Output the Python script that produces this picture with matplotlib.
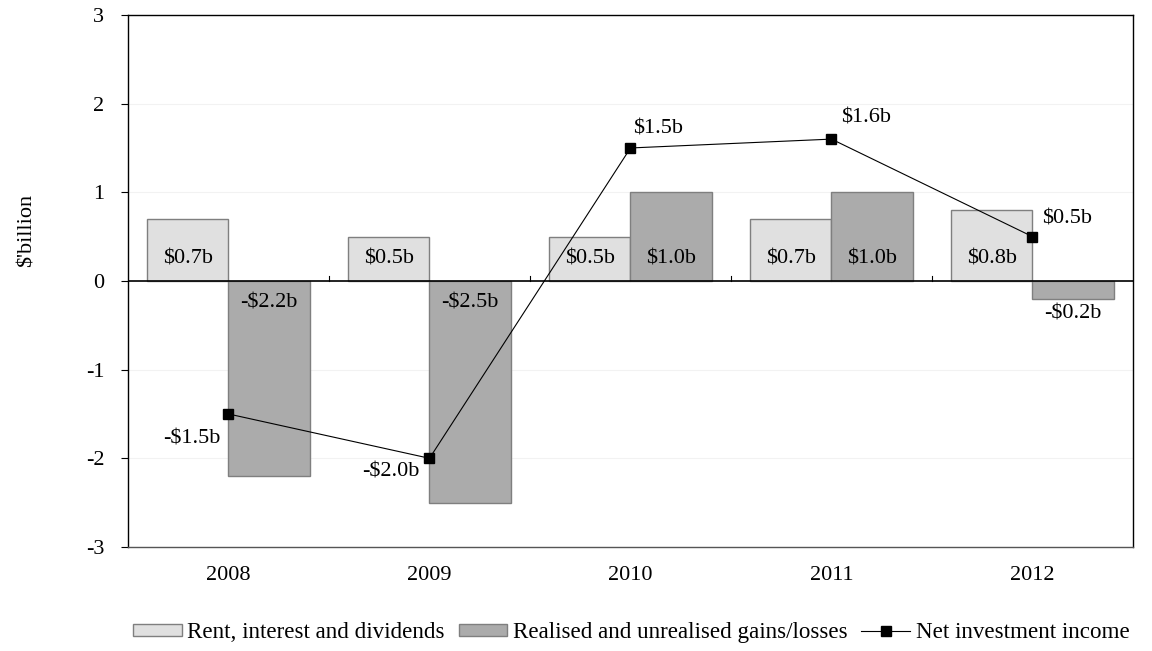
import numpy as np
import matplotlib
matplotlib.use("Agg")
import matplotlib.pyplot as plt
from matplotlib.lines import Line2D
from matplotlib.patches import Patch

plt.rcParams['font.family'] = ['Liberation Serif', 'DejaVu Serif']

years = ["2008", "2009", "2010", "2011", "2012"]
rent = [0.7, 0.5, 0.5, 0.7, 0.8]
gains = [-2.2, -2.5, 1.0, 1.0, -0.2]
net = [-1.5, -2.0, 1.5, 1.6, 0.5]
# offsets (points) for the net income labels
net_offsets = [(-6, -18), (-7, -10), (2, 14), (7, 15), (7, 13)]

light = "#E0E0E0"
dark = "#ABABAB"
edge = "#7F7F7F"
FS = 16

def fmt(v):
    s = "$%.1fb" % abs(v)
    return "-" + s if v < 0 else s

fig = plt.figure(figsize=(11.52, 6.51), dpi=100)
ax = fig.add_axes([0.1111, 0.1598, 0.8724, 0.8172])

x = np.arange(len(years))
w = 0.405
ax.bar(x - w / 2, rent, w, color=light, edgecolor=edge, linewidth=1, zorder=2)
ax.bar(x + w / 2, gains, w, color=dark, edgecolor=edge, linewidth=1, zorder=2)

# bar labels
for xi, v in zip(x - w / 2, rent):
    ax.text(xi, 0.25 if v > 0 else -0.25, fmt(v), ha="center", va="center", fontsize=FS, zorder=5)
for xi, v in zip(x + w / 2, gains):
    if abs(v) < 0.4:
        y = v - 0.17 if v < 0 else v + 0.17
    else:
        y = 0.25 if v > 0 else -0.25
    ax.text(xi, y, fmt(v), ha="center", va="center", fontsize=FS, zorder=5)

ax.plot(x, net, color="black", linewidth=0.8, marker="s", markersize=6.5, zorder=4)
for xi, v, off in zip(x, net, net_offsets):
    ax.annotate(fmt(v), (xi, v), xytext=off, textcoords="offset points",
                ha="right" if v < 0 else "left", va="center", fontsize=FS, zorder=5)

ax.axhline(0, color="black", linewidth=1.2, zorder=3)
for b in np.arange(0.5, len(years) - 0.5, 1.0):
    ax.plot([b, b], [0, 0.06], color="black", linewidth=0.8, zorder=3)

ax.set_xlim(-0.5, len(years) - 0.5)
ax.set_ylim(-3, 3)
ax.set_yticks(range(-3, 4))
ax.set_yticklabels([str(i) for i in range(-3, 4)], fontsize=FS)
ax.set_xticks(x)
ax.set_xticklabels(years, fontsize=FS)
ax.tick_params(axis="x", length=0, pad=14)
ax.tick_params(axis="y", length=5, pad=12, width=0.8)
ax.grid(axis="y", color="#F2F2F2", linewidth=0.8, zorder=0)
for s in ax.spines.values():
    s.set_linewidth(1)
    s.set_color("black")
ax.spines["bottom"].set_color("#555555")
fig.text(27 / 1152, 1 - 230 / 651, "$'billion", rotation=90, ha="center", va="center", fontsize=FS)

handles = [Patch(facecolor=light, edgecolor=edge, label="Rent, interest and dividends"),
           Patch(facecolor=dark, edgecolor=edge, label="Realised and unrealised gains/losses"),
           Line2D([0], [0], color="black", linewidth=0.8, marker="s", markersize=6.5,
                  label="Net investment income")]
fig.legend(handles=handles, loc="center", bbox_to_anchor=(0.548, 0.028), ncol=3,
           frameon=False, fontsize=16.6, handlelength=2.1, handleheight=0.45,
           handletextpad=0.25, columnspacing=0.6, borderpad=0)

fig.savefig("out.png", dpi=100)
